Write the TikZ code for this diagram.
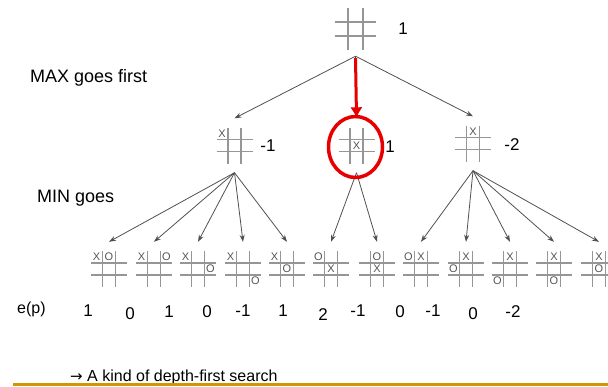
\documentclass[tikz,border=0pt]{standalone}
\usepackage{fontspec}
\setmainfont{Liberation Sans}
\newfontfamily\arrowfont{DejaVu Sans}
\usetikzlibrary{arrows.meta, positioning, shapes.geometric}
\definecolor{goldline}{RGB}{204,153,0}
\definecolor{gridgray}{RGB}{150,150,150}
\definecolor{arrowgray}{RGB}{80,80,80}
\definecolor{markgray}{RGB}{85,85,85}
\definecolor{hotred}{RGB}{232,0,0}

\newcommand{\board}[3][1]{%
  \node[board] (#2) at (#3) {};
  \draw[gridline] ([shift={(-6.5*#1,-18*#1)}]#2.center) -- ++(0,36*#1);
  \draw[gridline] ([shift={(6.5*#1,-18*#1)}]#2.center) -- ++(0,36*#1);
  \draw[gridline] ([shift={(-18*#1,-6*#1)}]#2.center) -- ++(36*#1,0);
  \draw[gridline] ([shift={(-18*#1,6*#1)}]#2.center) -- ++(36*#1,0);
}
\newcommand{\putmarks}[2]{%
  \foreach \mc/\mr/\ms in {#2} {\node[xo] at ([shift={(\mc*12.5,\mr*12)}]#1.center) {\ms};}
}

\begin{document}
\begin{tikzpicture}[
    x=1pt, y=-1pt,
    board/.style={rectangle, minimum width=40pt, minimum height=54pt, inner sep=0pt},
    gridline/.style={draw=gridgray, line width=1.3pt},
    xo/.style={inner sep=0pt, text=markgray, font=\fontsize{11}{13}\selectfont},
    tree/.style={-{Stealth[length=7pt, width=5pt]}, draw=arrowgray, line width=0.8pt},
    redarrow/.style={-{Triangle[length=9pt, width=11pt]}, draw=hotred, line width=3pt},
    hotring/.style={ellipse, draw=hotred, line width=3.5pt, minimum width=54pt, minimum height=61pt, inner sep=0pt},
    caption/.style={font=\fontsize{18}{22}\selectfont, inner sep=0pt, anchor=base west},
    score/.style={font=\fontsize{17}{20}\selectfont, inner sep=0pt, anchor=base},
]
    \path[use as bounding box, clip] (0,0) rectangle (608,386);

    \board[1.15]{root}{355.5,29}
    \board{l1a}{234.5,145.5}
    \putmarks{l1a}{-1/-1/X}
    \board{l1b}{356.5,145.5}
    \putmarks{l1b}{0/0/X}
    \board{l1c}{473,143.5}
    \putmarks{l1c}{0/-1/X}

    \board{leaf1}{109,269}   \putmarks{leaf1}{-1/-1/X, 0/-1/O}
    \board{leaf2}{154,269}   \putmarks{leaf2}{-1/-1/X, 1/-1/O}
    \board{leaf3}{198,269}   \putmarks{leaf3}{-1/-1/X, 1/0/O}
    \board{leaf4}{243,269}   \putmarks{leaf4}{-1/-1/X, 1/1/O}
    \board{leaf5}{287,269}   \putmarks{leaf5}{-1/-1/X, 0/0/O}
    \board{leaf6}{331,269}   \putmarks{leaf6}{-1/-1/O, 0/0/X}
    \board{leaf7}{377,269}   \putmarks{leaf7}{0/-1/O, 0/0/X}
    \board{leaf8}{421,269}   \putmarks{leaf8}{-1/-1/O, 0/-1/X}
    \board{leaf9}{466,269}   \putmarks{leaf9}{0/-1/X, -1/0/O}
    \board{leaf10}{510,269}  \putmarks{leaf10}{0/-1/X, -1/1/O}
    \board{leaf11}{554,269}  \putmarks{leaf11}{0/-1/X, 0/1/O}
    \board{leaf12}{599,269}  \putmarks{leaf12}{0/-1/X, 0/0/O}

    \draw[tree] (root.south) -- (l1a.north);
    \draw[tree] (root.south) -- (l1b.north);
    \draw[tree] (root.south) -- (l1c.north);
    \foreach \i in {1,...,5} \draw[tree] (l1a.south) -- (leaf\i.north);
    \foreach \i in {6,7} \draw[tree] (l1b.south) -- (leaf\i.north);
    \foreach \i in {8,...,12} \draw[tree] (l1c.south) -- (leaf\i.north);

    \draw[redarrow] ([yshift=-2pt]root.south) -- ([yshift=2pt]l1b.north);
    \node[hotring] (focus) at (355.5,147) {};

    \node[score] (v0) at (403,34) {1};
    \node[score] (v1) at (268,151) {-1};
    \node[score] (v2) at (390,152) {1};
    \node[score] (v3) at (512,150) {-2};

    \node[caption] (maxtxt) at (30,82) {MAX goes first};
    \node[caption] (mintxt) at (37,202) {MIN goes};
    \node[caption, font=\fontsize{16}{20}\selectfont] (ep) at (17,313) {e(p)};

    \node[score] (e1) at (88,316) {1};
    \node[score] (e2) at (130,319) {0};
    \node[score] (e3) at (169,317) {1};
    \node[score] (e4) at (207,317) {0};
    \node[score] (e5) at (243,316) {-1};
    \node[score] (e6) at (283,316) {1};
    \node[score] (e7) at (323,320) {2};
    \node[score] (e8) at (358,316) {-1};
    \node[score] (e9) at (400,317) {0};
    \node[score] (e10) at (433,316) {-1};
    \node[score] (e11) at (473,319) {0};
    \node[score] (e12) at (513,317) {-2};

    \node[caption, font=\fontsize{16}{20}\selectfont] (dfs) at (70,381) {{\arrowfont\fontsize{15}{18}\selectfont →} A kind of depth-first search};
    \draw[goldline, line width=2.5pt] (13,384.5) coordinate (rulea) -- (608,384.5) coordinate (ruleb);
\end{tikzpicture}
\end{document}
